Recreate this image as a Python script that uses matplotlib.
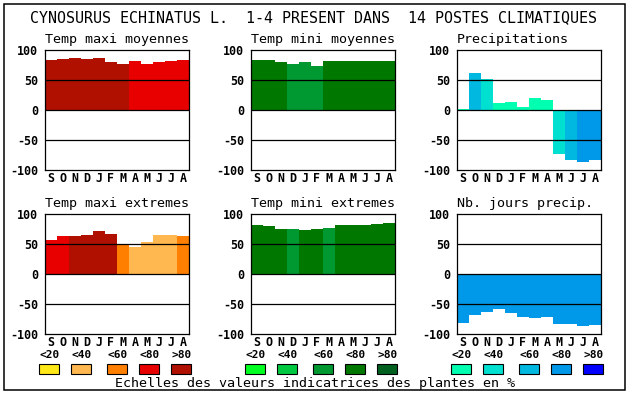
import numpy as np
import matplotlib.pyplot as plt
from matplotlib.patches import Rectangle

plt.rcParams["font.family"] = "DejaVu Sans Mono"

W, H = 630, 394

title = "CYNOSURUS ECHINATUS L.  1-4 PRESENT DANS  14 POSTES CLIMATIQUES"
footer = "Echelles des valeurs indicatrices des plantes en %"
months = ["S", "O", "N", "D", "J", "F", "M", "A", "M", "J", "J", "A"]
classes = ["<20", "<40", "<60", "<80", ">80"]

# colour scales (index = class)
reds = ["#ffe818", "#ffb850", "#ff8000", "#e80000", "#b01000"]
greens = ["#00ff20", "#00c840", "#009830", "#007800", "#006020"]
blues = ["#00ffb0", "#00e0d0", "#00b8e0", "#0098e8", "#0000ff"]

# values, with class of each bar
tmax_moy = [83, 85, 87, 85, 87, 80, 77, 82, 77, 80, 82, 83]
tmax_moy_cls = [4, 4, 4, 4, 4, 4, 4, 3, 3, 3, 3, 3]

tmin_moy = [83, 83, 80, 77, 80, 73, 82, 82, 82, 82, 82, 82]
tmin_moy_cls = [3, 3, 3, 2, 2, 2, 3, 3, 3, 3, 3, 3]

precip = [2, 62, 52, 12, 13, 5, 20, 17, -73, -83, -87, -83]
precip_cls = [0, 2, 1, 0, 0, 0, 0, 0, 1, 2, 3, 3]

tmax_ext = [57, 63, 63, 65, 72, 67, 48, 45, 53, 65, 65, 63]
tmax_ext_cls = [3, 3, 4, 4, 4, 4, 2, 1, 1, 1, 1, 2]

tmin_ext = [82, 80, 75, 75, 73, 75, 77, 82, 82, 82, 83, 85]
tmin_ext_cls = [3, 3, 3, 2, 3, 3, 2, 3, 3, 3, 3, 3]

nb_jours = [-82, -68, -63, -58, -65, -72, -73, -72, -83, -83, -87, -85]
nb_jours_cls = [3, 3, 3, 3, 3, 3, 3, 3, 3, 3, 3, 3]

panels = [
    ("Temp maxi moyennes", tmax_moy, tmax_moy_cls, reds, 45, 50),
    ("Temp mini moyennes", tmin_moy, tmin_moy_cls, greens, 251, 50),
    ("Precipitations", precip, precip_cls, blues, 457, 50),
    ("Temp maxi extremes", tmax_ext, tmax_ext_cls, reds, 45, 214),
    ("Temp mini extremes", tmin_ext, tmin_ext_cls, greens, 251, 214),
    ("Nb. jours precip.", nb_jours, nb_jours_cls, blues, 457, 214),
]

fig = plt.figure(figsize=(W / 100, H / 100), dpi=100)

def fx(x):
    return x / W

def fy(y):
    return 1 - y / H

# outer frame
fig.patches.append(Rectangle((fx(4), fy(390)), fx(621), 386 / H, transform=fig.transFigure,
                             fill=False, edgecolor="black", linewidth=1.1))

fig.text(fx(313.5), fy(22), title, ha="center", va="baseline", fontsize=10.8)

x = np.arange(len(months))
for name, vals, cls, scale, left, top in panels:
    ax = fig.add_axes([fx(left), fy(top + 120), 144 / W, 120 / H])
    ax.bar(x, vals, width=1.0, color=[scale[c] for c in cls], linewidth=0, zorder=1)
    for yy in (50, 0, -50):
        ax.axhline(yy, color="black", linewidth=0.9, zorder=2)
    ax.set_xlim(-0.5, 11.5)
    ax.set_ylim(-100, 100)
    ax.set_yticks([100, 50, 0, -50, -100])
    ax.set_yticklabels(["100", "50", "0", "-50", "-100"], fontweight="bold", fontsize=8.4)
    ax.set_xticks(x)
    ax.set_xticklabels(months, fontweight="bold", fontsize=8.4)
    ax.tick_params(axis="y", length=0, pad=5)
    ax.tick_params(axis="x", length=0, pad=1.5)
    for s in ax.spines.values():
        s.set_linewidth(0.9)
    fig.text(fx(left), fy(top - 7), name, ha="left", va="baseline", fontsize=9.6)

# colour scale legend
offsets = [-5.7, 26.3, 62.3, 94.3, 126.3]
for scale, left in ((reds, 45), (greens, 251), (blues, 457)):
    for off, lab, col in zip(offsets, classes, scale):
        bx = left + off
        fig.patches.append(Rectangle((fx(bx), fy(373.5)), 20 / W, 9.5 / H, transform=fig.transFigure,
                                     facecolor=col, edgecolor="black", linewidth=0.8))
        fig.text(fx(bx + 10), fy(358), lab, ha="center", va="baseline", fontsize=8, fontweight="bold")

fig.text(fx(315), fy(386.5), footer, ha="center", va="baseline", fontsize=9.6)

plt.savefig("out.png", dpi=100)
